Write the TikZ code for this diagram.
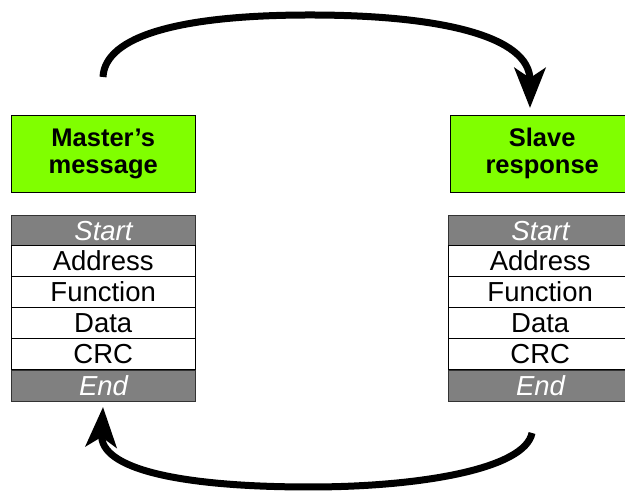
\documentclass[tikz,border=0pt]{standalone}
\usepackage{fontspec}
\setmainfont{Liberation Sans}
\usetikzlibrary{arrows.meta}
\definecolor{msggreen}{HTML}{80FF00}
\definecolor{framegray}{HTML}{808080}
\tikzset{
    title/.style={draw=black,fill=msggreen,minimum width=184pt,minimum height=77pt,
        anchor=north west,align=center,inner sep=0pt,
        font=\fontsize{25.5}{27}\selectfont\bfseries},
    field/.style={draw=black,fill=white,minimum width=184pt,minimum height=31pt,
        anchor=north west,inner sep=0pt,font=\fontsize{27.5}{29}\selectfont},
    frame/.style={field,draw=black!80,line width=1pt,fill=framegray,text=white,
        font=\fontsize{27.5}{29}\selectfont\itshape},
    loop/.style={line width=7pt,-{Stealth[length=40pt,width=31pt,inset=10pt]}}
}
\begin{document}
\begin{tikzpicture}[x=1pt,y=1pt]
        \useasboundingbox (0,0) rectangle (625,494);

        % master side
        \node[title] (master) at (11,379) {Master's\\message};
        \node[frame] (mstart) at (11,279) {Start};
        \node[field] (maddr) at (11,249) {Address};
        \node[field] (mfunc) at (11,218) {Function};
        \node[field] (mdata) at (11,187) {Data};
        \node[field] (mcrc) at (11,156) {CRC};
        \node[frame] (mend) at (11,124) {End};

        % slave side
        \node[title] (slave) at (450,379) {Slave\\response};
        \node[frame] (sstart) at (448,279) {Start};
        \node[field] (saddr) at (448,249) {Address};
        \node[field] (sfunc) at (448,218) {Function};
        \node[field] (sdata) at (448,187) {Data};
        \node[field] (scrc) at (448,156) {CRC};
        \node[frame] (send) at (448,124) {End};

        \coordinate (qout) at (103,417);
        \coordinate (qin) at (530,386);
        \coordinate (rout) at (532,61);
        \coordinate (rin) at (103,87);

        \draw[loop] (qout) .. controls (105,458) and (180,479) .. (310,479)
            .. controls (440,479) and (530,458) .. (qin);
        \draw[loop] (rout) .. controls (525,25) and (420,7) .. (310,7)
            .. controls (180,7) and (100,25) .. (rin);
    \end{tikzpicture}
\end{document}
